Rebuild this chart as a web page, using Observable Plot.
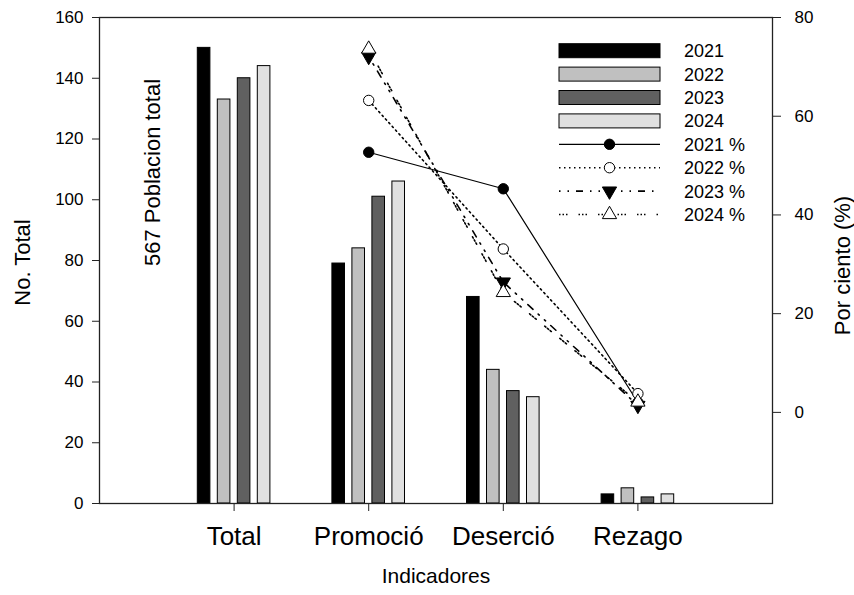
<!DOCTYPE html>
<html>
<head>
<meta charset="utf-8">
<script src="https://cdn.jsdelivr.net/npm/d3@7"></script>
<script src="https://cdn.jsdelivr.net/npm/@observablehq/plot@0.6"></script>
<style>
  html, body { margin: 0; padding: 0; background: white; }
  #chart svg { display: block; }
</style>
</head>
<body>
<div id="chart"></div>
<script>
// ---- data ----
const categories = ["Total", "Promoció", "Deserció", "Rezago"];
const years = ["2021", "2022", "2023", "2024"];
const counts2021 = [150, 79, 68, 3];
const counts2022 = [133, 84, 44, 5];
const counts2023 = [140, 101, 37, 2];
const counts2024 = [144, 106, 35, 3];
const pctCategories = ["Promoció", "Deserció", "Rezago"];
const pct2021 = [52.7, 45.3, 2.0];
const pct2022 = [63.2, 33.1, 3.8];
const pct2023 = [72.1, 26.4, 1.4];
const pct2024 = [73.6, 24.3, 2.1];
const leftTicks = [0, 20, 40, 60, 80, 100, 120, 140, 160];
const rightTicks = [0, 20, 40, 60, 80];

// ---- styles ----
const FONT = "'Liberation Sans', Arial, Helvetica, sans-serif";
const barFill = {"2021": "#000000", "2022": "#c0c0c0", "2023": "#606060", "2024": "#e0e0e0"};
const barOffset = {"2021": -30, "2022": -10, "2023": 10, "2024": 30}; // px from tick
const pxPerUnit = (854 - 99 - 82) / 5;
const barHalf = 6.3 / pxPerUnit;

// right axis (percent) mapped onto left axis (counts)
const toLeft = p => 30 + p * 130 / 80;
const toPct = v => (v - 30) * 80 / 130;

const countSeries = [counts2021, counts2022, counts2023, counts2024];
const bars = [];
years.forEach((yr, j) => {
  categories.forEach((c, i) => {
    bars.push({year: yr, cat: c, idx: i + 1, value: countSeries[j][i]});
  });
});

const pctSeries = {"2021": pct2021, "2022": pct2022, "2023": pct2023, "2024": pct2024};
const pctStyle = {
  "2021": {dash: null, symbol: "circle", fill: "black", rotate: 0, r: 5.2},
  "2022": {dash: "1.5,3.5", symbol: "circle", fill: "white", rotate: 0, r: 5.2},
  "2023": {dash: "1.5,7,1.5,7,7,7", symbol: "triangle", fill: "black", rotate: 180, r: 5.3},
  "2024": {dash: "1.5,2,1.5,2,1.5,11", symbol: "triangle", fill: "white", rotate: 0, r: 5.3}
};
const pctPoints = {};
years.forEach(yr => {
  pctPoints[yr] = pctCategories.map((c, i) => ({year: yr, cat: c, idx: categories.indexOf(c) + 1, pct: pctSeries[yr][i]}));
});

const marks = [];
// bars
marks.push(Plot.rectY(bars, {
  x1: d => d.idx + (barOffset[d.year]) / pxPerUnit - barHalf,
  x2: d => d.idx + (barOffset[d.year]) / pxPerUnit + barHalf,
  y1: 0,
  y2: "value",
  fill: d => barFill[d.year],
  stroke: "black",
  strokeWidth: 1
}));
// lines
years.forEach(yr => {
  const s = pctStyle[yr];
  marks.push(Plot.line(pctPoints[yr], {
    x: "idx", y: d => toLeft(d.pct),
    stroke: "black", strokeWidth: s.dash ? 1.6 : 1.2,
    strokeDasharray: s.dash || undefined
  }));
});
years.forEach(yr => {
  const s = pctStyle[yr];
  marks.push(Plot.dot(pctPoints[yr], {
    x: "idx", y: d => toLeft(d.pct),
    symbol: s.symbol, r: s.r, fill: s.fill, stroke: "black", strokeWidth: 1,
    rotate: s.rotate
  }));
});

// axes
marks.push(Plot.axisY({
  anchor: "left", ticks: leftTicks, tickSize: 7, tickPadding: 9,
  fontSize: 17, label: null, stroke: "#222"
}));
marks.push(Plot.axisY({
  anchor: "right", ticks: rightTicks.map(toLeft), tickFormat: v => Math.round(toPct(v)),
  tickSize: 8, tickPadding: 14, fontSize: 17, label: null, textAnchor: "start", stroke: "#222"
}));
marks.push(Plot.axisX({
  ticks: [1, 2, 3, 4], tickFormat: v => categories[v - 1],
  tickSize: 8, tickPadding: 15, fontSize: 26, label: null, stroke: "#222"
}));
marks.push(Plot.frame({stroke: "#222", strokeWidth: 1.3}));

// axis titles & annotation
marks.push(Plot.text(["No. Total"], {text: d => d, frameAnchor: "left", textAnchor: "middle", dx: -77, dy: 2, rotate: -90, fontSize: 22, fill: "black"}));
marks.push(Plot.text(["Por ciento (%)"], {text: d => d, frameAnchor: "right", textAnchor: "middle", dx: 70, dy: 5, rotate: -90, fontSize: 22, fill: "black"}));
marks.push(Plot.text(["Indicadores"], {text: d => d, frameAnchor: "bottom", textAnchor: "middle", dy: 79, fontSize: 21, fill: "black"}));
marks.push(Plot.text(["567 Poblacion total"], {text: d => d, frameAnchor: "left", textAnchor: "middle", dx: 53, dy: -88, rotate: -90, fontSize: 22, fill: "black"}));

const chart = Plot.plot({
  width: 854,
  height: 595,
  marginLeft: 99,
  marginRight: 82,
  marginTop: 17,
  marginBottom: 92,
  x: {type: "linear", domain: [0, 5]},
  y: {type: "linear", domain: [0, 160]},
  style: {fontFamily: FONT, fontSize: "17px", color: "black", background: "white", overflow: "visible"},
  marks
});
document.getElementById("chart").appendChild(chart);

// ---- legend (inside the frame, top right) ----
const svg = d3.select(chart);
const lg = svg.append("g").attr("font-family", FONT).attr("font-size", 18).attr("text-anchor", "start");
const rowY = i => 50.7 + i * 23.4;
const sx1 = 559, sx2 = 660, sxm = 609.5, tx = 684;
years.forEach((yr, i) => {
  const y = rowY(i);
  lg.append("rect").attr("x", sx1).attr("y", y - 7).attr("width", sx2 - sx1).attr("height", 14)
    .attr("fill", barFill[yr]).attr("stroke", "black").attr("stroke-width", 1);
  lg.append("text").attr("x", tx).attr("y", y).attr("dy", "0.36em").attr("fill", "black").text(yr);
});
years.forEach((yr, k) => {
  const i = k + 4;
  const y = rowY(i);
  const s = pctStyle[yr];
  const ln = lg.append("line").attr("x1", sx1).attr("x2", sx2).attr("y1", y).attr("y2", y)
    .attr("stroke", "black").attr("stroke-width", s.dash ? 1.6 : 1.2);
  if (s.dash) ln.attr("stroke-dasharray", s.dash);
  const sym = s.symbol === "circle" ? d3.symbolCircle : d3.symbolTriangle;
  lg.append("path")
    .attr("d", d3.symbol(sym, Math.PI * s.r * s.r)())
    .attr("transform", `translate(${sxm},${y}) rotate(${s.rotate})`)
    .attr("fill", s.fill).attr("stroke", "black").attr("stroke-width", 1);
  lg.append("text").attr("x", tx).attr("y", y).attr("dy", "0.36em").attr("fill", "black").text(yr + " %");
});
</script>
</body>
</html>
